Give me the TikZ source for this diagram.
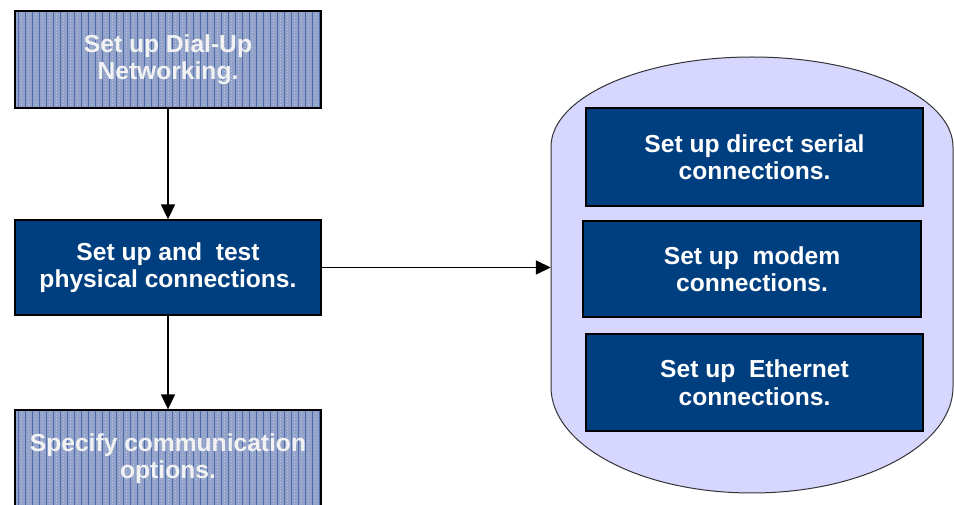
\documentclass[tikz,border=0pt]{standalone}
\usepackage{fontspec}
\setmainfont{Liberation Sans}
\usetikzlibrary{arrows.meta}

\definecolor{navy}{RGB}{0,63,127}
\definecolor{lavender}{RGB}{214,214,255}
\definecolor{stripebase}{RGB}{146,162,200}
\definecolor{stripedark}{RGB}{78,108,172}
\definecolor{stripelight}{RGB}{186,196,222}

\tikzset{
  basebox/.style={draw=black, line width=1.3pt, text=white, align=center,
    inner sep=0pt, font=\fontsize{24.6}{27.5}\selectfont\bfseries},
  solidbox/.style={basebox, fill=navy},
  stripedbox/.style={basebox, fill=stripebase, text=white!95!black,
    path picture={
      \foreach \k in {0,...,48} {
        \draw[stripedark, line width=1pt]
          ([xshift=3pt+\k*7pt]path picture bounding box.south west) --
          ([xshift=3pt+\k*7pt]path picture bounding box.north west);
        \draw[stripelight, line width=0.6pt, dash pattern=on 1pt off 2pt]
          ([xshift=6.5pt+\k*7pt]path picture bounding box.south west) --
          ([xshift=6.5pt+\k*7pt]path picture bounding box.north west);
      }
    }},
  flow/.style={draw=black, line width=1.7pt,
    -{Triangle[length=15pt,width=14pt]}},
}

\begin{document}
\begin{tikzpicture}[x=1pt, y=1pt]
  \clip (0,0) rectangle (954,504);
  \fill[white] (0,0) rectangle (954,504);

  % left column: the main sequence
  \node[stripedbox, minimum width=306pt, minimum height=97pt] (dialup)
    at (168,444.5) {Set up Dial-Up\\Networking.};
  \node[solidbox, minimum width=306pt, minimum height=95pt] (physical)
    at (168,236.5) {Set up and~ test\\physical connections.};
  \node[stripedbox, minimum width=306pt, minimum height=97pt] (options)
    at (168,45.5) {Specify communication\\options.};

  % rounded group holding the connection types
  \node[minimum width=402pt, minimum height=436pt, inner sep=0pt] (group)
    at (752,229) {};
  \draw[fill=lavender, draw=black!80, line width=1pt]
    (551,357) -- (551,117)
    arc[start angle=180, end angle=360, x radius=201, y radius=106]
    -- (953,357)
    arc[start angle=0, end angle=180, x radius=201, y radius=90]
    -- cycle;

  \node[solidbox, minimum width=337pt, minimum height=98pt] (serial)
    at (754.5,347) {Set up direct serial\\connections.};
  \node[solidbox, minimum width=338pt, minimum height=96pt] (modem)
    at (752,235) {Set up~ modem\\connections.};
  \node[solidbox, minimum width=337pt, minimum height=97pt] (ethernet)
    at (754.5,121.5) {Set up~ Ethernet\\connections.};

  % connectors
  \draw[flow] (dialup.south) -- (physical.north);
  \draw[flow] (physical.south) -- (options.north);
  \draw[flow] (physical.east) -- (physical.east -| group.west);
\end{tikzpicture}
\end{document}
